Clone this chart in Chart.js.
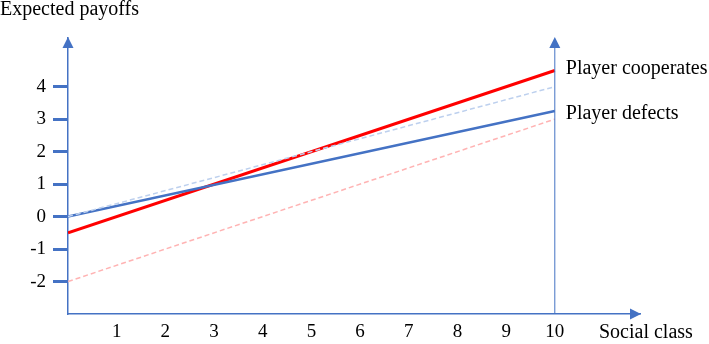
<!DOCTYPE html>
<html>
<head>
<meta charset="utf-8">
<script src="https://cdn.jsdelivr.net/npm/chart.js@4.4.1/dist/chart.umd.min.js"></script>
<style>
  body { margin: 0; background: #fff; }
</style>
</head>
<body>
<canvas id="payoffs" width="709" height="344"></canvas>
<script>
  const socialClass = [0, 10];
  const cooperates = [-0.5, 4.5];
  const defects = [0, 3.25];
  const cooperatesBase = [-2, 3];
  const defectsBase = [0, 4];
  const xTicks = [1, 2, 3, 4, 5, 6, 7, 8, 9, 10];
  const yTicks = [-2, -1, 0, 1, 2, 3, 4];

  const axisBlue = '#4472C4';
  const font = 'Liberation Serif';

  const pts = arr => arr.map((v, i) => ({ x: socialClass[i], y: v }));

  // arrows, the x = 10 marker line and the free text
  const decor = {
    id: 'decor',
    afterDraw(chart) {
      const { ctx, scales: { x, y }, chartArea: a } = chart;
      ctx.save();
      ctx.fillStyle = axisBlue;
      ctx.strokeStyle = axisBlue;

      const up = (px, py) => {
        ctx.beginPath();
        ctx.moveTo(px, py);
        ctx.lineTo(px - 5.5, py + 11);
        ctx.lineTo(px + 5.5, py + 11);
        ctx.closePath();
        ctx.fill();
      };
      up(a.left, a.top - 1);

      const x10 = x.getPixelForValue(10);
      ctx.lineWidth = 1;
      ctx.beginPath();
      ctx.moveTo(x10, a.bottom);
      ctx.lineTo(x10, a.top + 6);
      ctx.stroke();
      up(x10, a.top - 1);

      ctx.beginPath();
      ctx.moveTo(a.right + 1, a.bottom);
      ctx.lineTo(a.right - 10, a.bottom - 5.5);
      ctx.lineTo(a.right - 10, a.bottom + 5.5);
      ctx.closePath();
      ctx.fill();

      ctx.fillStyle = '#000';
      ctx.font = '20px "' + font + '"';
      ctx.textBaseline = 'middle';
      ctx.textAlign = 'left';
      ctx.fillText('Player cooperates', x10 + 11, y.getPixelForValue(cooperates[1]) - 2);
      ctx.fillText('Player defects', x10 + 11, y.getPixelForValue(defects[1]) + 3);
      ctx.fillText('Social class', 599, 333);
      ctx.textBaseline = 'alphabetic';
      ctx.fillText('Expected payoffs', 0, 15);
      ctx.restore();
    }
  };

  new Chart(document.getElementById('payoffs'), {
    type: 'line',
    data: {
      datasets: [
        {
          label: 'Defects reference',
          data: pts(defectsBase),
          borderColor: '#BDD0EE',
          borderWidth: 1.5,
          borderDash: [5, 3]
        },
        {
          label: 'Cooperates reference',
          data: pts(cooperatesBase),
          borderColor: '#FFB3B3',
          borderWidth: 1.5,
          borderDash: [5, 3]
        },
        {
          label: 'Player defects',
          data: pts(defects),
          borderColor: axisBlue,
          borderWidth: 2.5
        },
        {
          label: 'Player cooperates',
          data: pts(cooperates),
          borderColor: '#FF0000',
          borderWidth: 3
        }
      ]
    },
    options: {
      responsive: false,
      animation: false,
      layout: { padding: { top: 38, right: 69, left: 0, bottom: 0 } },
      elements: { point: { radius: 0 }, line: { tension: 0 } },
      plugins: { legend: { display: false }, tooltip: { enabled: false } },
      scales: {
        x: {
          type: 'linear',
          min: 0,
          max: 11.75,
          afterBuildTicks: s => { s.ticks = xTicks.map(v => ({ value: v })); },
          afterFit: s => { s.height = 30; },
          ticks: { color: '#000', font: { family: font, size: 19 }, padding: 7, maxRotation: 0 },
          grid: { display: true, drawOnChartArea: false, drawTicks: false },
          border: { color: axisBlue, width: 1.5 }
        },
        y: {
          min: -3,
          max: 5.5,
          afterBuildTicks: s => { s.ticks = yTicks.map(v => ({ value: v })); },
          afterFit: s => { s.width = 68; },
          ticks: { color: '#000', font: { family: font, size: 19 }, padding: 7 },
          grid: { drawOnChartArea: false, tickLength: 15, tickWidth: 3, tickColor: axisBlue },
          border: { color: axisBlue, width: 1.5 }
        }
      }
    },
    plugins: [decor]
  });
</script>
</body>
</html>
